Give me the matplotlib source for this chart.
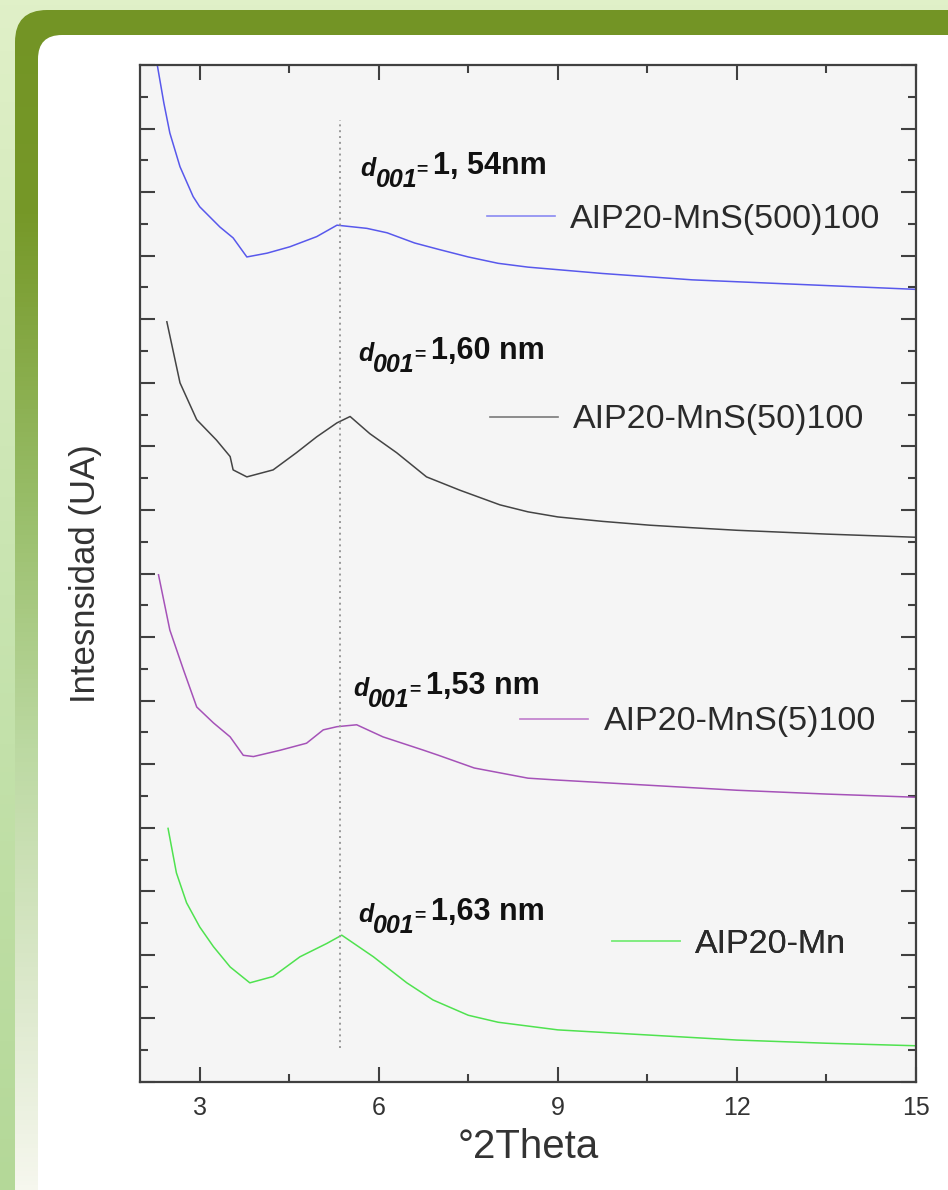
"""XRD patterns of AlP20-Mn samples (stacked, arbitrary units)."""

import matplotlib.pyplot as plt
import numpy as np
from matplotlib.colors import LinearSegmentedColormap
from matplotlib.lines import Line2D
from matplotlib.patches import FancyBboxPatch
from matplotlib.ticker import MultipleLocator

plt.rcParams["font.family"] = ["Liberation Sans", "DejaVu Sans"]

# ---- data (x: °2Theta, y: stacked intensity, a.u.) ----
labels = ["AIP20-MnS(500)100", "AIP20-MnS(50)100", "AIP20-MnS(5)100", "AIP20-Mn"]
d001_text = ["1, 54nm", "1,60 nm", "1,53 nm", "1,63 nm"]

x_500 = [2.28, 2.4, 2.5, 2.67, 2.89, 3.0, 3.34, 3.56, 3.79, 4.13, 4.51, 4.96, 5.3,
         5.8, 6.14, 6.6, 7.0, 7.5, 8.0, 8.5, 9.0, 9.75, 10.5, 11.25, 12.0, 12.75,
         13.5, 14.25, 15.0]
y_500 = [16.05, 15.4, 14.93, 14.4, 13.93, 13.77, 13.45, 13.28, 12.98, 13.04, 13.14,
         13.3, 13.48, 13.43, 13.36, 13.2, 13.1, 12.98, 12.88, 12.82, 12.78, 12.72,
         12.67, 12.62, 12.59, 12.56, 12.53, 12.5, 12.47]

x_50 = [2.45, 2.67, 2.95, 3.28, 3.51, 3.56, 3.79, 4.23, 4.62, 4.96, 5.3, 5.52, 5.85,
        6.3, 6.8, 7.36, 8.03, 8.5, 9.0, 9.75, 10.54, 11.25, 12.0, 13.5, 15.0]
y_50 = [11.96, 11.0, 10.42, 10.1, 9.84, 9.63, 9.52, 9.63, 9.9, 10.15, 10.37, 10.47,
        10.2, 9.9, 9.52, 9.31, 9.08, 8.97, 8.89, 8.82, 8.76, 8.72, 8.68, 8.62, 8.57]

x_5 = [2.31, 2.5, 2.73, 2.95, 3.23, 3.51, 3.73, 3.9, 4.35, 4.79, 5.07, 5.3, 5.63,
       6.07, 6.75, 7.0, 7.6, 8.5, 9.0, 10.5, 12.0, 13.5, 15.0]
y_5 = [7.98, 7.11, 6.48, 5.9, 5.65, 5.43, 5.14, 5.12, 5.22, 5.33, 5.54, 5.59, 5.62,
       5.43, 5.22, 5.14, 4.94, 4.78, 4.75, 4.67, 4.59, 4.53, 4.48]

x_mn = [2.47, 2.61, 2.78, 3.0, 3.23, 3.51, 3.84, 4.23, 4.68, 5.13, 5.38, 5.91, 6.47,
        6.91, 7.5, 8.0, 9.0, 10.5, 12.0, 13.5, 15.0]
y_mn = [3.99, 3.29, 2.82, 2.44, 2.13, 1.81, 1.56, 1.66, 1.97, 2.18, 2.31, 1.97, 1.56,
        1.29, 1.05, 0.94, 0.82, 0.74, 0.66, 0.61, 0.57]

peak_x = 5.35
peak_y_span = (0.53, 15.13)

series = [(x_500, y_500), (x_50, y_50), (x_5, y_5), (x_mn, y_mn)]
colors = ["#5858ec", "#444444", "#a552b8", "#4fe24f"]
legend_colors = ["#8a8af2", "#7a7a7a", "#c07ccc", "#80ec80"]

# layout (axes fraction / data units)
legend_anchor = [(0.447, 0.848), (0.451, 0.651), (0.490, 0.354), (0.608, 0.135)]
d_pos = [(5.69, 14.25), (5.65, 11.34), (5.57, 6.07), (5.65, 2.52)]

W, H = 948, 1190
fig = plt.figure(figsize=(W / 100, H / 100), dpi=100)

# ---- decorative frame --------------------------------------------------------
bg = fig.add_axes([0, 0, 1, 1], zorder=-10)
bg.set_xlim(0, W)
bg.set_ylim(H, 0)
bg.axis("off")

outer = LinearSegmentedColormap.from_list("outer", ["#e0f0c8", "#c8e4b0", "#b4d898"])
bg.imshow(outer(np.linspace(0, 1, 256))[:, None, :], extent=(0, W, H, 0), aspect="auto")

frame = FancyBboxPatch((15, 10), 1000, 1300, boxstyle="round,pad=0,rounding_size=32",
                       fc="none", ec="none")
bg.add_patch(frame)
band = LinearSegmentedColormap.from_list(
    "band",
    [(0.0, "#739425"), (0.18, "#769828"), (0.42, "#98bd68"), (0.63, "#bcd9a2"),
     (0.84, "#dde9cd"), (1.0, "#f6f7ee")],
)
im = bg.imshow(band(np.linspace(0, 1, 256))[:, None, :], extent=(0, W, H, 0), aspect="auto")
im.set_clip_path(frame)

bg.add_patch(FancyBboxPatch((38, 35), 1000, 1300, boxstyle="round,pad=0,rounding_size=24",
                            fc="white", ec="none"))

# ---- chart -------------------------------------------------------------------
ax = fig.add_axes([140 / W, 1 - 1082 / H, 776 / W, 1017 / H])
ax.set_facecolor("#f5f5f5")

for (xs, ys), c in zip(series, colors):
    ax.plot(xs, ys, color=c, lw=1.1)

ax.vlines(peak_x, *peak_y_span, colors="#999999", linestyles=(0, (1, 2)), lw=1.4)

ax.set_xlim(2, 15)
ax.set_ylim(0, 16)
ax.xaxis.set_major_locator(MultipleLocator(3))
ax.xaxis.set_minor_locator(MultipleLocator(1.5))
ax.yaxis.set_major_locator(MultipleLocator(1))
ax.yaxis.set_minor_locator(MultipleLocator(0.5))
ax.set_yticklabels([])
ax.tick_params(which="both", direction="in", top=True, right=True,
               color="#404040", width=1.5)
ax.tick_params(which="major", length=10.5)
ax.tick_params(which="minor", length=5.5)
ax.tick_params(axis="x", labelsize=18, labelcolor="#333333", pad=10)
for sp in ax.spines.values():
    sp.set_color("#404040")
    sp.set_linewidth(1.6)

ax.set_xlabel("°2Theta", fontsize=29, color="#333333", labelpad=6)
ax.set_ylabel("Intesnsidad (UA)", fontsize=25, color="#333333", labelpad=24)

# one small legend per curve, placed next to it
for i, (lab, c) in enumerate(zip(labels, legend_colors)):
    leg = ax.legend(handles=[Line2D([], [], color=c, lw=1.2)], labels=[lab],
                    loc="center left", bbox_to_anchor=legend_anchor[i],
                    frameon=False, borderpad=0, borderaxespad=0,
                    handlelength=2.0, handletextpad=0.45, fontsize=24.5)
    for t in leg.get_texts():
        t.set_color("#2a2a2a")
    ax.add_artist(leg)


def d_label(x, y, value):
    """d001 annotation: bold italic d, lowered 001, small '=' then value."""
    kw = dict(fontweight="bold", color="#111111")
    t_d = ax.text(x, y, "d", fontsize=18, style="italic", va="baseline", **kw)
    t_sub = ax.annotate("001", xy=(1, 0), xycoords=t_d, xytext=(0, -8),
                        textcoords="offset points", fontsize=18, style="italic",
                        va="bottom", **kw)
    t_eq = ax.annotate("=", xy=(1, 1), xycoords=t_sub, xytext=(-0.5, 5),
                       textcoords="offset points", fontsize=14, va="top", **kw)
    ax.annotate(value, xy=(1, 0), xycoords=(t_eq, t_d), xytext=(4, 0),
                textcoords="offset points", fontsize=22, va="bottom", **kw)


for (x, y), v in zip(d_pos, d001_text):
    d_label(x, y, v)

fig.savefig("out.png", dpi=100)
